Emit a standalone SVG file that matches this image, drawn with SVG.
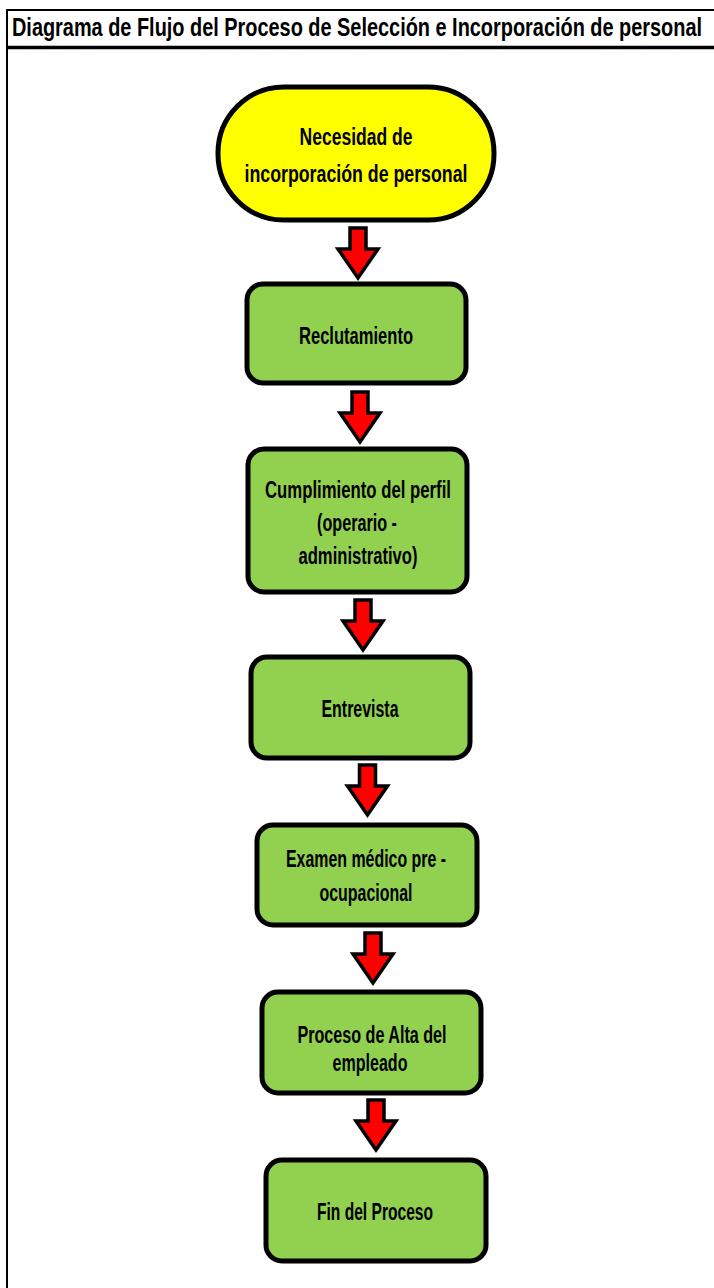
<svg xmlns="http://www.w3.org/2000/svg" width="714" height="1288" viewBox="0 0 714 1288">
  <style>
    .title { font-family: "Liberation Sans", Arial, sans-serif; font-weight: bold; font-size: 25px; fill: #000; }
    .lbl { font-family: "Liberation Sans", Arial, sans-serif; font-weight: bold; font-size: 23px; fill: #000; text-anchor: middle; }
    .term { fill: #FFFF00; stroke: #000; stroke-width: 5; }
    .proc { fill: #92D050; stroke: #000; stroke-width: 5; }
    .arrow { fill: #FF0000; stroke: #000; stroke-width: 3.5; stroke-linejoin: miter; }
    .frame { stroke: #000; fill: none; }
  </style>
  <defs>
    <!-- block arrow pointing down, origin at the top centre of the shaft -->
    <path id="downArrow" d="M -8 0 H 8 V 21 H 20 L 0 50 L -20 21 H -8 Z"/>
  </defs>

  <rect width="714" height="1288" fill="#fff"/>

  <!-- sheet frame and title band -->
  <g id="frame">
    <line class="frame" x1="6" y1="10" x2="714" y2="10" stroke-width="2"/>
    <line class="frame" x1="6" y1="47.5" x2="714" y2="47.5" stroke-width="3.5"/>
    <line class="frame" x1="7" y1="9" x2="7" y2="1288" stroke-width="2"/>
    <!-- narrow title: horizontally condensed bold sans -->
    <text class="title" transform="translate(12 36) scale(0.75 1)" x="0" y="0" textLength="920" lengthAdjust="spacingAndGlyphs">Diagrama de Flujo del Proceso de Selección e Incorporación de personal</text>
  </g>

  <!-- connectors -->
  <g id="connectors">
    <use href="#downArrow" class="arrow" x="358" y="228"/>
    <use href="#downArrow" class="arrow" x="360" y="392"/>
    <use href="#downArrow" class="arrow" x="363" y="600"/>
    <use href="#downArrow" class="arrow" x="367.5" y="765"/>
    <use href="#downArrow" class="arrow" x="373" y="933"/>
    <use href="#downArrow" class="arrow" x="376" y="1100"/>
  </g>

  <g id="n1-necesidad">
    <rect class="term" x="218" y="87" width="276" height="133" rx="66" ry="66"/>
    <text class="lbl" x="356" y="145" textLength="113" lengthAdjust="spacingAndGlyphs">Necesidad de</text>
    <text class="lbl" x="356" y="182" textLength="223" lengthAdjust="spacingAndGlyphs">incorporación de personal</text>
  </g>

  <g id="n2-reclutamiento">
    <rect class="proc" x="247" y="284" width="219" height="99" rx="16" ry="16"/>
    <text class="lbl" x="356" y="344" textLength="114" lengthAdjust="spacingAndGlyphs">Reclutamiento</text>
  </g>

  <g id="n3-perfil">
    <rect class="proc" x="248" y="449" width="219" height="143" rx="16" ry="16"/>
    <text class="lbl" x="358" y="498" textLength="186" lengthAdjust="spacingAndGlyphs">Cumplimiento del perfil</text>
    <text class="lbl" x="357" y="531" textLength="80" lengthAdjust="spacingAndGlyphs">(operario -</text>
    <text class="lbl" x="358" y="564" textLength="119" lengthAdjust="spacingAndGlyphs">administrativo)</text>
  </g>

  <g id="n4-entrevista">
    <rect class="proc" x="251" y="657" width="219" height="101" rx="16" ry="16"/>
    <text class="lbl" x="360" y="717" textLength="77" lengthAdjust="spacingAndGlyphs">Entrevista</text>
  </g>

  <g id="n5-examen">
    <rect class="proc" x="257" y="825" width="220" height="100" rx="16" ry="16"/>
    <text class="lbl" x="366" y="867" textLength="160" lengthAdjust="spacingAndGlyphs">Examen médico pre -</text>
    <text class="lbl" x="366" y="901" textLength="93" lengthAdjust="spacingAndGlyphs">ocupacional</text>
  </g>

  <g id="n6-alta">
    <rect class="proc" x="262" y="992" width="219" height="101" rx="16" ry="16"/>
    <text class="lbl" x="372" y="1043" textLength="149" lengthAdjust="spacingAndGlyphs">Proceso de Alta del</text>
    <text class="lbl" x="370" y="1071" textLength="75" lengthAdjust="spacingAndGlyphs">empleado</text>
  </g>

  <g id="n7-fin">
    <rect class="proc" x="266" y="1160" width="220" height="101" rx="16" ry="16"/>
    <text class="lbl" x="375" y="1220" textLength="116" lengthAdjust="spacingAndGlyphs">Fin del Proceso</text>
  </g>
</svg>
